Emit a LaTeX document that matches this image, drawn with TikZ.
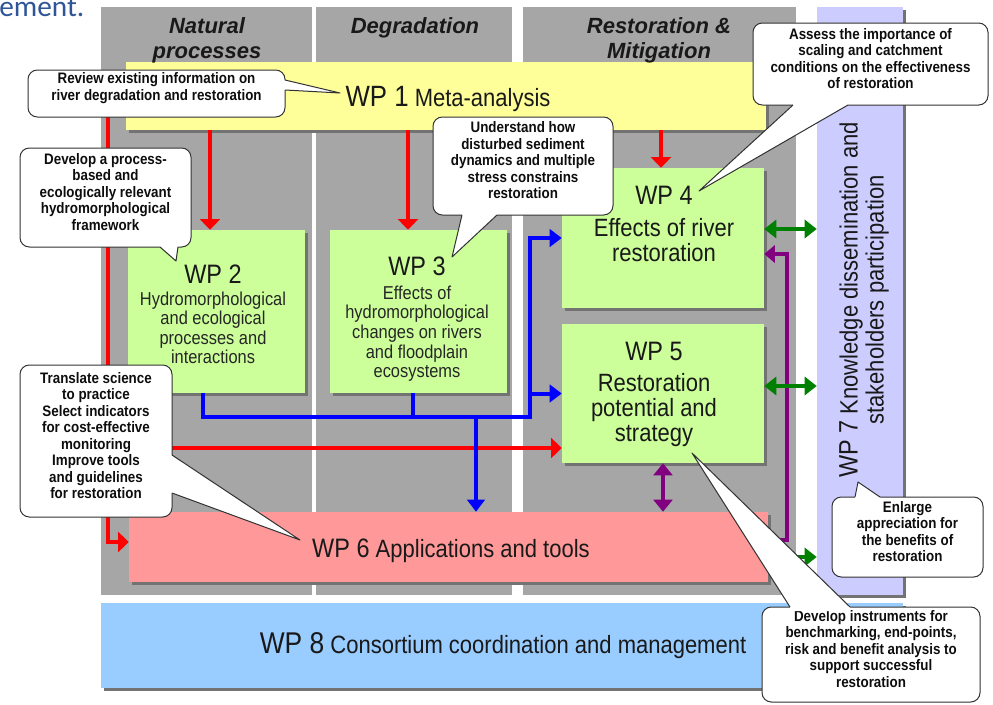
\documentclass[tikz,border=0pt]{standalone}
\usepackage{fontspec}
\setmainfont{Liberation Sans}
\newfontfamily\narrowfont{Liberation Sans}[FakeStretch=0.88]
\newfontfamily\titlefont{Carlito}
\usepackage{tikz}
\usetikzlibrary{arrows.meta, positioning, fit, shadows}

\definecolor{colgray}{RGB}{166,166,166}
\definecolor{wpyellow}{RGB}{255,255,153}
\definecolor{wpgreen}{RGB}{204,255,153}
\definecolor{wppink}{RGB}{255,153,153}
\definecolor{wpblue}{RGB}{153,204,255}
\definecolor{wplilac}{RGB}{204,204,255}
\definecolor{arrred}{RGB}{255,0,0}
\definecolor{arrblue}{RGB}{0,0,255}
\definecolor{arrgreen}{RGB}{0,128,0}
\definecolor{arrpurple}{RGB}{128,0,128}
\definecolor{titleblue}{RGB}{47,85,151}
\definecolor{notegray}{RGB}{50,50,50}

\tikzset{
	wpbox/.style={inner sep=0pt, drop shadow={shadow xshift=2pt, shadow yshift=-2pt, fill=black!55, opacity=1}},
	wpnum/.style={inner sep=0pt, text=black!90, font=\narrowfont\fontsize{20}{22}\selectfont},
	wpsub/.style={inner sep=0pt, align=center, text=black!85, font=\narrowfont\fontsize{14}{14.7}\selectfont},
	wpsubbig/.style={inner sep=0pt, align=center, text=black!90, font=\narrowfont\fontsize{18.75}{18.75}\selectfont},
	wpline/.style={inner sep=0pt, anchor=base, text=black!90, font=\narrowfont\fontsize{18.75}{20}\selectfont},
	colhead/.style={inner sep=0pt, anchor=north, align=center, text=black!90, font=\bfseries\itshape\fontsize{16.5}{18.75}\selectfont},
	note/.style={draw=notegray, line width=0.75pt, fill=white, rounded corners=7pt, inner sep=0pt, align=center, text=black!95, font=\narrowfont\bfseries\fontsize{11.4}{12.4}\selectfont},
	tipline/.style={draw=notegray, line width=0.75pt, line join=round},
	redarr/.style={draw=arrred, line width=2.6pt, -{Triangle[width=15pt,length=8pt]}},
	blueline/.style={draw=arrblue, line width=3pt},
	bluearr/.style={blueline, -{Triangle[width=13pt,length=9pt]}},
	greenboth/.style={draw=arrgreen, line width=2.8pt, {Triangle[width=13.5pt,length=9pt]}-{Triangle[width=13.5pt,length=9pt]}},
	greenarr/.style={draw=arrgreen, line width=2.8pt, -{Triangle[width=13.5pt,length=9pt]}},
	purparr/.style={draw=arrpurple, line width=2.8pt, -{Triangle[width=13pt,length=8pt]}},
	purpboth/.style={draw=arrpurple, line width=2.8pt, {Triangle[width=14pt,length=9pt]}-{Triangle[width=14pt,length=9pt]}}
}

\begin{document}
\begin{tikzpicture}[x=0.75pt, y=-0.75pt]
	\useasboundingbox (0,0) rectangle (993,704);

	\node[anchor=base west, inner sep=0pt, text=titleblue, font=\titlefont\fontsize{22}{26}\selectfont] (slidetitle) at (-1,16) {ement.};

	% columns
	\fill[colgray] (101,7) rectangle (312,595);
	\fill[colgray] (316,7) rectangle (512,595);
	\fill[colgray] (523,7) rectangle (796,595);

	% work packages
	\node[wpbox, fill=wplilac, fit={(817,7) (903,595)}] (wp7) {};
	\node[wpbox, fill=wpyellow, fit={(126,62) (766,130)}] (wp1) {};
	\node[wpbox, fill=wpgreen, fit={(128,230) (305,393)}] (wp2) {};
	\node[wpbox, fill=wpgreen, fit={(330,230) (507,393)}] (wp3) {};
	\node[wpbox, fill=wpgreen, fit={(562,168) (764,308)}] (wp4) {};
	\node[wpbox, fill=wpgreen, fit={(562,324) (764,463)}] (wp5) {};
	\node[wpbox, fill=wppink, fit={(129,512) (768,582)}] (wp6) {};
	\node[wpbox, fill=wpblue, fit={(101,603) (903,688)}] (wp8) {};

	\node[colhead] (hnatural) at (207,17) {Natural\\processes};
	\node[colhead] (hdegrad) at (415,17) {Degradation};
	\node[colhead] (hrestor) at (659,17) {Restoration \&\\Mitigation};

	\node[wpline] (wp1txt) at (448,106) {{\fontsize{22}{24}\selectfont WP 1} Meta-analysis};

	\node[wpnum, anchor=base] (wp2num) at (213,283) {WP 2};
	\node[wpsub, below=6pt of wp2num] (wp2sub) {Hydromorphological\\and ecological\\processes and\\interactions};

	\node[wpnum, anchor=base] (wp3num) at (417,275) {WP 3};
	\node[wpsub, below=7.5pt of wp3num] (wp3sub) {Effects of\\hydromorphological\\changes on rivers\\and floodplain\\ecosystems};

	\node[wpnum, anchor=base] (wp4num) at (664,204) {WP 4};
	\node[wpsubbig, below=10.5pt of wp4num] (wp4sub) {Effects of river\\restoration};

	\node[wpnum, anchor=base] (wp5num) at (654,360) {WP 5};
	\node[wpsubbig, below=9.75pt of wp5num] (wp5sub) {Restoration\\potential and\\strategy};

	\node[wpline] (wp6txt) at (451,557) {{\fontsize{20}{22}\selectfont WP 6} Applications and tools};
	\node[wpline] (wp8txt) at (503,653) {{\fontsize{22.5}{24}\selectfont WP 8} Consortium coordination and management};

	\node[rotate=90, inner sep=0pt, align=center, text=black!90, font=\narrowfont\fontsize{18.75}{19.5}\selectfont] (wp7txt) at (864,300) {{\fontsize{20}{19.5}\selectfont WP 7} Knowledge dissemination and\\stakeholders participation};

	% red: from WP 1
	\draw[redarr] (wp1.south -| 210,0) -- (wp2.north -| 210,0);
	\draw[redarr] (wp1.south -| 408,0) -- (wp3.north -| 408,0);
	\draw[redarr] (wp1.south -| 661,0) -- (wp4.north -| 661,0);
	\draw[redarr] (wp1.west) -- (wp1.west -| 108,0) |- (wp6.west |- 0,542);
	\coordinate (redsplit) at (108,448);
	\draw[redarr] (redsplit) -- (wp5.west |- redsplit);

	% blue: from WP 2 and WP 3
	\coordinate (bus) at (530,417);
	\draw[bluearr] (wp2.south -| 203,0) |- (bus) |- (wp4.west);
	\draw[bluearr] (bus |- wp5.west) -- (wp5.west);
	\draw[blueline] (wp3.south -| 413,0) -- (413,417);
	\draw[bluearr] (476,417) -- (wp6.north -| 476,0);

	% purple and green
	\draw[purparr] (wp6.east |- 0,540) -| (787,254) -- (wp4.east |- 0,254);
	\draw[purpboth] (wp5.south -| 663,0) -- (wp6.north -| 663,0);
	\draw[greenboth] (wp4.east |- 0,229) -- (wp7.west |- 0,229);
	\draw[greenboth] (wp5.east |- 0,386) -- (wp7.west |- 0,386);
	\draw[greenarr] (wp6.east |- 0,557) -- (wp7.west |- 0,557);

	% callouts
	\node[note, fit={(28,70) (285,117)}] (note1) {Review existing information on\\river degradation and restoration};
	\fill[white] (285,80) -- (340,93) -- (285,90) -- (281,90) -- (281,80) -- cycle;
	\draw[tipline] (285,80) -- (340,93) -- (285,90);

	\node[note, fit={(20,148) (191,247)}] (note2) {Develop a process-\\based and\\ecologically relevant\\hydromorphological\\framework};
	\fill[white] (160,247) -- (176,261) -- (178,247) -- (178,243) -- (160,243) -- cycle;
	\draw[tipline] (160,247) -- (176,261) -- (178,247);

	\node[note, fit={(433,117) (613,215)}] (note3) {Understand how\\disturbed sediment\\dynamics and multiple\\stress constrains\\restoration};
	\fill[white] (462,215) -- (452,257) -- (497,215) -- (497,211) -- (462,211) -- cycle;
	\draw[tipline] (462,215) -- (452,257) -- (497,215);

	\node[note, fit={(753,23) (988,105)}] (note4) {Assess the importance of\\scaling and catchment\\conditions on the effectiveness\\of restoration};
	\fill[white] (793,105) -- (699,191) -- (848,105) -- (848,101) -- (793,101) -- cycle;
	\draw[tipline] (793,105) -- (699,191) -- (848,105);

	\node[note, fit={(20,365) (172,517)}] (note5) {Translate science\\to practice\\Select indicators\\for cost-effective\\monitoring\\Improve tools\\and guidelines\\for restoration};
	\fill[white] (172,455) -- (300,540) -- (172,493) -- (168,493) -- (168,455) -- cycle;
	\draw[tipline] (172,455) -- (300,540) -- (172,493);

	\node[note, fit={(832,497) (983,577)}] (note6) {Enlarge\\appreciation for\\the benefits of\\restoration};
	\fill[white] (855,497) -- (858,482) -- (880,497) -- (880,501) -- (855,501) -- cycle;
	\draw[tipline] (855,497) -- (858,482) -- (880,497);

	\node[note, fit={(762,607) (980,702)}] (note7) {Develop instruments for\\benchmarking, end-points,\\risk and benefit analysis to\\support successful\\restoration};
	\fill[white] (790,607) -- (692,453) -- (850,607) -- (850,611) -- (790,611) -- cycle;
	\draw[tipline] (790,607) -- (692,453) -- (850,607);
\end{tikzpicture}
\end{document}
